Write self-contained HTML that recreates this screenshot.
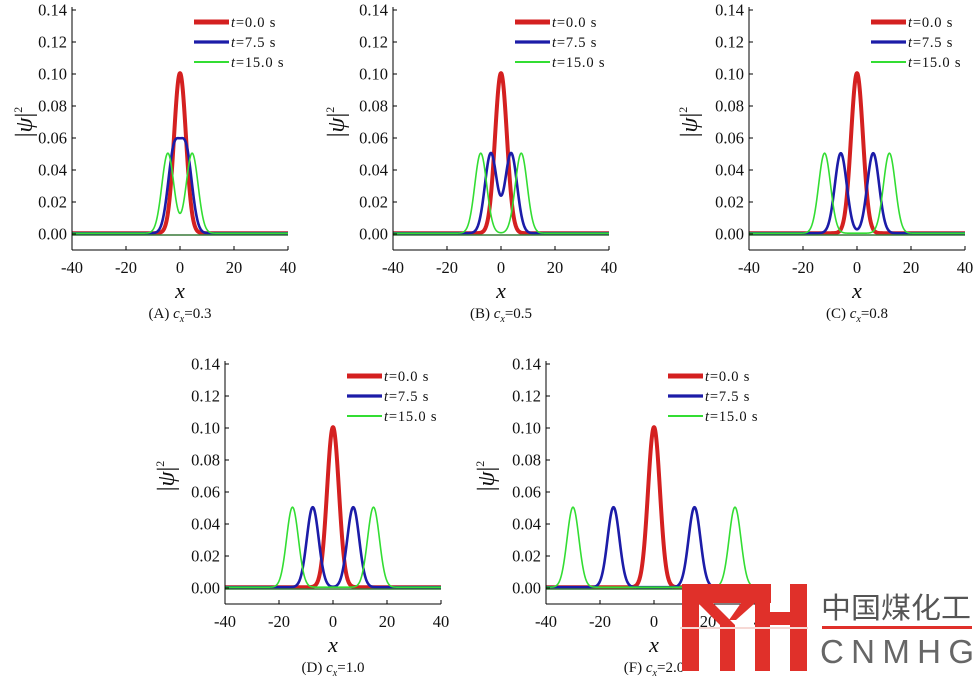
<!DOCTYPE html>
<html><head><meta charset="utf-8"><style>
html,body{margin:0;padding:0;background:#fff;}
svg{display:block;}
text{font-family:"Liberation Serif",serif;fill:#111;}
</style></head><body>
<svg id="s" width="979" height="676" viewBox="0 0 979 676" xmlns="http://www.w3.org/2000/svg"></svg>
<script>
const S=document.getElementById('s');let h='';
const panels=[
 {x0:72,y0:234,c:0.3,lab:'(A)',cv:'0.3',yl:22},
 {x0:393,y0:234,c:0.5,lab:'(B)',cv:'0.5',yl:334},
 {x0:749,y0:234,c:0.8,lab:'(C)',cv:'0.8',yl:687},
 {x0:225,y0:588,c:1.0,lab:'(D)',cv:'1.0',yl:164},
 {x0:546,y0:588,c:2.0,lab:'(F)',cv:'2.0',yl:484}];
const W=216,sy=1600;
function g(x,m){return 0.05*Math.exp(-(x-m)*(x-m)/9.7)+0.05*Math.exp(-(x+m)*(x+m)/9.7);}
panels.forEach(p=>{
 const X=v=>p.x0+(v+40)/80*W, Y=v=>p.y0-v*sy;
 const top=Y(0.14)-3,bot=p.y0+16;
 const ser=[[0,'#d42020',4],[7.5,'#1c1ca8',2.6],[15,'#33dd33',1.6]];
 ser.forEach(([t,col,w])=>{
   let d='';for(let i=0;i<=800;i++){const x=-40+i*0.1;const y=g(x,p.c*t)+0.0005;d+=(i?'L':'M')+X(x).toFixed(2)+' '+Y(y).toFixed(2);}
   h+=`<path d="${d}" fill="none" stroke="${col}" stroke-width="${w}" stroke-linejoin="round"/>`;
 });
 h+=`<line x1="${X(-40)}" y1="${p.y0+1}" x2="${X(40)}" y2="${p.y0+1}" stroke="#3a7a3a" stroke-width="1.4"/>`;
 h+=`<line x1="${p.x0}" y1="${top}" x2="${p.x0}" y2="${bot}" stroke="#000" stroke-width="1"/>`;
 h+=`<line x1="${p.x0}" y1="${bot}" x2="${p.x0+W}" y2="${bot}" stroke="#000" stroke-width="1"/>`;
 for(let k=0;k<=7;k++){const v=k*0.02,y=Y(v);
   h+=`<line x1="${p.x0}" y1="${y}" x2="${p.x0+4}" y2="${y}" stroke="#000"/>`;
   h+=`<text x="${p.x0-5}" y="${y+5.5}" font-size="16.5" text-anchor="end">${v.toFixed(2)}</text>`;}
 for(let v=-40;v<=40;v+=20){const x=X(v);
   h+=`<line x1="${x}" y1="${bot}" x2="${x}" y2="${bot-4}" stroke="#000"/>`;
   h+=`<text x="${x}" y="${bot+23}" font-size="16.5" text-anchor="middle">${v}</text>`;}
 h+=`<text x="${p.x0+W/2}" y="${bot+48}" font-size="22" font-style="italic" text-anchor="middle">x</text>`;
 h+=`<text x="${p.x0+W/2}" y="${bot+68}" font-size="15" text-anchor="middle">${p.lab} <tspan font-style="italic">c</tspan><tspan font-size="10" dy="4" font-style="italic">x</tspan><tspan dy="-4">=${p.cv}</tspan></text>`;
 const yc=Y(0.07);
 h+=`<text transform="translate(${p.yl+10},${yc}) rotate(-90)" font-size="24" text-anchor="middle">|<tspan font-style="italic">ψ</tspan>|<tspan font-size="12" dy="-10">2</tspan></text>`;
 const lx=p.x0+122, ly=Y(0.14)+12;
 [['0.0','#d42020',5],['7.5','#1c1ca8',3.2],['15.0','#33dd33',2]].forEach(([tt,col,w],i)=>{
   const yy=ly+i*20;
   h+=`<line x1="${lx}" y1="${yy}" x2="${lx+35}" y2="${yy}" stroke="${col}" stroke-width="${w}"/>`;
   h+=`<text x="${lx+37}" y="${yy+5}" font-size="14.5" letter-spacing="0.8"><tspan font-style="italic">t</tspan>=${tt} s</text>`;
 });
});
h+=`<g fill="#e0302a">
<rect x="682" y="584" width="17" height="87"/>
<rect x="682" y="584" width="89" height="19"/>
<polygon points="698,603 713,603 735,625 735,671 720,671 720,625"/>
<polygon points="741,603 755,603 736,620 729,620"/>
<rect x="755" y="584" width="15" height="87"/>
<rect x="790" y="584" width="17" height="87"/>
<rect x="770" y="612" width="20" height="13"/>
</g>
<rect x="680" y="627" width="128" height="2" fill="#f6d8d4"/>
<text x="821" y="618" font-size="29" style="font-family:'Noto Sans CJK SC',sans-serif;fill:#555" textLength="150" lengthAdjust="spacingAndGlyphs">中国煤化工</text>
<rect x="822" y="626" width="150" height="3" fill="#e0302a"/>
<text x="820" y="663" font-size="33" style="font-family:'Liberation Sans',sans-serif;fill:#666" textLength="154" lengthAdjust="spacing">CNMHG</text>`;
S.innerHTML=h;
</script>
</body></html>
